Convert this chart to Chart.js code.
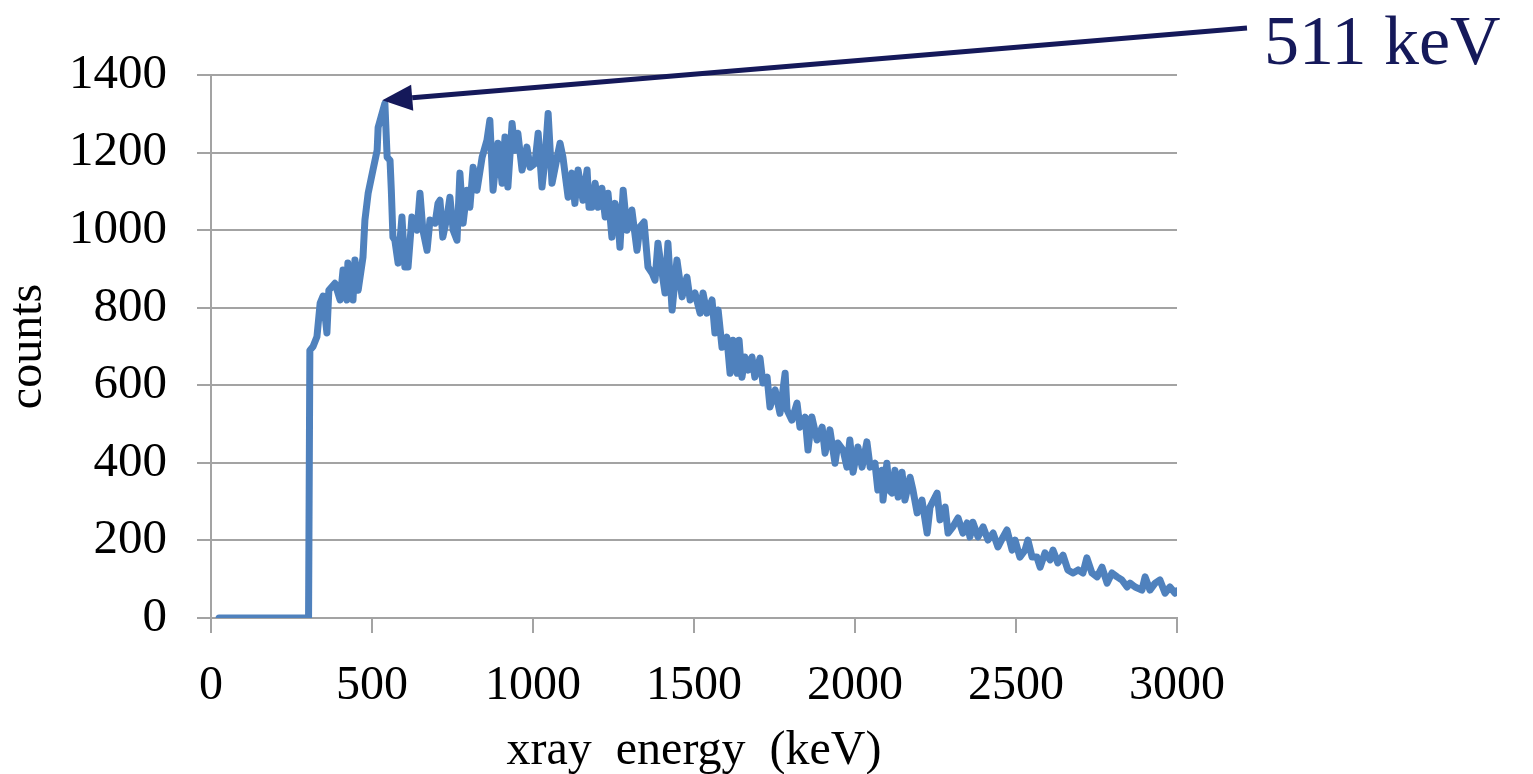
<!DOCTYPE html>
<html>
<head>
<meta charset="utf-8">
<script src="https://cdn.jsdelivr.net/npm/chart.js@4.4.0/dist/chart.umd.min.js"></script>
<style>
    html, body { margin: 0; padding: 0; background: #fff; }
    #wrap { width: 1533px; height: 774px; }
</style>
</head>
<body>
<div id="wrap"><canvas id="spectrum" width="1533" height="774"></canvas></div>
<script>
// spectrum (keV, counts)
const energies = [
    25, 303, 307, 317, 329, 339, 348, 360, 366, 385, 401, 410, 422, 425, 441, 447, 457, 472, 478, 488,
    503, 516, 519, 534, 540, 547, 556, 560, 565, 571, 581, 593, 602, 612, 624, 640, 649, 658, 671, 680,
    696, 705, 711, 720, 733, 742, 752, 764, 773, 783, 795, 804, 814, 826, 842, 857, 866, 876, 891, 904,
    913, 922, 935, 944, 953, 966, 981, 991, 1006, 1016, 1028, 1037, 1047, 1059, 1075, 1084, 1093, 1109, 1121, 1130,
    1140, 1155, 1168, 1174, 1183, 1193, 1202, 1214, 1224, 1233, 1245, 1255, 1264, 1270, 1280, 1292, 1307, 1323, 1332, 1345,
    1357, 1370, 1379, 1388, 1401, 1410, 1419, 1432, 1447, 1463, 1478, 1488, 1503, 1519, 1528, 1540, 1556, 1565, 1575, 1587,
    1602, 1612, 1621, 1634, 1640, 1649, 1658, 1668, 1680, 1689, 1705, 1714, 1727, 1736, 1752, 1767, 1783, 1789, 1804, 1820,
    1829, 1845, 1854, 1866, 1882, 1898, 1907, 1922, 1938, 1947, 1963, 1975, 1984, 1994, 2009, 2022, 2037, 2047, 2062, 2071,
    2084, 2087, 2099, 2106, 2115, 2124, 2134, 2146, 2155, 2171, 2180, 2193, 2208, 2224, 2233, 2255, 2264, 2280, 2289, 2304,
    2320, 2335, 2348, 2357, 2366, 2382, 2398, 2413, 2429, 2444, 2460, 2472, 2488, 2497, 2512, 2528, 2537, 2550, 2565, 2575,
    2590, 2606, 2615, 2630, 2646, 2661, 2677, 2693, 2708, 2720, 2736, 2752, 2767, 2783, 2798, 2814, 2829, 2845, 2854, 2870,
    2891, 2901, 2916, 2932, 2947, 2963, 2978, 2994, 3000
];
const counts = [
    0, 0, 690, 700, 725, 812, 830, 735, 845, 863, 820, 897, 820, 915, 820, 923, 845, 930, 1026, 1095,
    1155, 1206, 1265, 1309, 1327, 1188, 1180, 1103, 982, 974, 915, 1034, 905, 905, 1034, 1000, 1095, 1000, 948, 1026,
    1018, 1069, 1077, 982, 1034, 1085, 1000, 974, 1147, 1018, 1103, 1059, 1162, 1103, 1188, 1232, 1283, 1103, 1224, 1121,
    1240, 1111, 1275, 1206, 1250, 1155, 1214, 1162, 1172, 1250, 1111, 1180, 1301, 1121, 1188, 1224, 1188, 1085, 1147, 1069,
    1155, 1077, 1155, 1059, 1059, 1121, 1059, 1108, 1034, 1095, 982, 1069, 1026, 956, 1103, 1000, 1052, 948, 1008, 1021,
    905, 889, 871, 966, 889, 838, 966, 794, 923, 828, 879, 820, 838, 786, 838, 786, 820, 735, 794, 698,
    724, 631, 716, 631, 716, 621, 673, 639, 673, 621, 670, 606, 621, 544, 588, 528, 631, 536, 510, 554,
    492, 518, 433, 518, 459, 492, 425, 485, 399, 451, 433, 389, 459, 376, 441, 389, 454, 389, 399, 330,
    381, 304, 399, 330, 322, 381, 312, 376, 304, 363, 330, 271, 304, 219, 286, 322, 253, 286, 219, 235,
    258, 219, 245, 209, 247, 209, 235, 201, 219, 183, 209, 227, 175, 201, 157, 175, 201, 157, 157, 131,
    168, 150, 175, 142, 162, 124, 116, 124, 116, 155, 116, 106, 131, 90, 116, 106, 98, 80, 90, 80,
    72, 106, 72, 90, 98, 64, 80, 64, 70
];
const xTicks = [0, 500, 1000, 1500, 2000, 2500, 3000];
const yTicks = [0, 200, 400, 600, 800, 1000, 1200, 1400];

const peakEnergy = 532;
const peakCount = 1335;
const peakLabel = '511 keV';

const serif = "'Liberation Serif', 'Times New Roman', serif";
const gridGray = '#a3a3a3';
const navy = '#15195a';

// arrow from the label down to the 511 keV peak
const peakArrow = {
    id: 'peakArrow',
    afterDraw(chart) {
        const ctx = chart.ctx;
        const tipX = chart.scales.x.getPixelForValue(peakEnergy);
        const tipY = chart.scales.y.getPixelForValue(peakCount);
        const tailX = 1247, tailY = 28;
        const ang = Math.atan2(tailY - tipY, tailX - tipX);
        const headLen = 30, headHalf = 13;
        const baseX = tipX + Math.cos(ang) * headLen;
        const baseY = tipY + Math.sin(ang) * headLen;

        ctx.save();
        ctx.strokeStyle = navy;
        ctx.fillStyle = navy;
        ctx.lineWidth = 5;
        ctx.beginPath();
        ctx.moveTo(tailX, tailY);
        ctx.lineTo(baseX, baseY);
        ctx.stroke();

        ctx.beginPath();
        ctx.moveTo(tipX, tipY);
        ctx.lineTo(baseX - Math.sin(ang) * headHalf, baseY + Math.cos(ang) * headHalf);
        ctx.lineTo(baseX + Math.sin(ang) * headHalf, baseY - Math.cos(ang) * headHalf);
        ctx.closePath();
        ctx.fill();

        ctx.font = '70px ' + serif;
        ctx.textAlign = 'left';
        ctx.textBaseline = 'alphabetic';
        ctx.fillText(peakLabel, 1264, 64);
        ctx.restore();
    }
};

new Chart(document.getElementById('spectrum'), {
    type: 'line',
    data: {
        datasets: [{
            data: energies.map((e, i) => ({ x: e, y: counts[i] })),
            borderColor: '#4f81bd',
            borderWidth: 7,
            borderJoinStyle: 'round',
            borderCapStyle: 'round',
            pointRadius: 0,
            tension: 0,
            fill: false
        }]
    },
    options: {
        responsive: false,
        devicePixelRatio: 1,
        animation: false,
        layout: { padding: { top: 75, right: 356, left: 0, bottom: 0 } },
        plugins: { legend: { display: false }, tooltip: { enabled: false } },
        scales: {
            x: {
                type: 'linear',
                min: 0,
                max: 3000,
                afterBuildTicks: scale => { scale.ticks = xTicks.map(v => ({ value: v })); },
                afterFit: scale => { scale.height = 156; },
                grid: { drawOnChartArea: false, drawTicks: true, tickLength: 15, color: gridGray, lineWidth: 2 },
                border: { display: true, color: gridGray, width: 2 },
                ticks: {
                    color: '#000',
                    font: { family: serif, size: 48 },
                    padding: 25,
                    maxRotation: 0,
                    callback: v => String(v)
                },
                title: {
                    display: true,
                    text: 'xray  energy  (keV)',
                    color: '#000',
                    font: { family: serif, size: 48 },
                    padding: { top: 0, bottom: -6 }
                }
            },
            y: {
                min: 0,
                max: 1400,
                afterBuildTicks: scale => { scale.ticks = yTicks.map(v => ({ value: v })); },
                afterFit: scale => { scale.width = 211; },
                grid: { drawTicks: true, tickLength: 14, color: gridGray, lineWidth: 2 },
                border: { display: true, color: gridGray, width: 2 },
                ticks: {
                    color: '#000',
                    font: { family: serif, size: 49 },
                    padding: 30,
                    callback: v => String(v)
                },
                title: {
                    display: true,
                    text: 'counts',
                    color: '#000',
                    font: { family: serif, size: 48 },
                    padding: 0
                }
            }
        }
    },
    plugins: [peakArrow]
});
</script>
</body>
</html>
